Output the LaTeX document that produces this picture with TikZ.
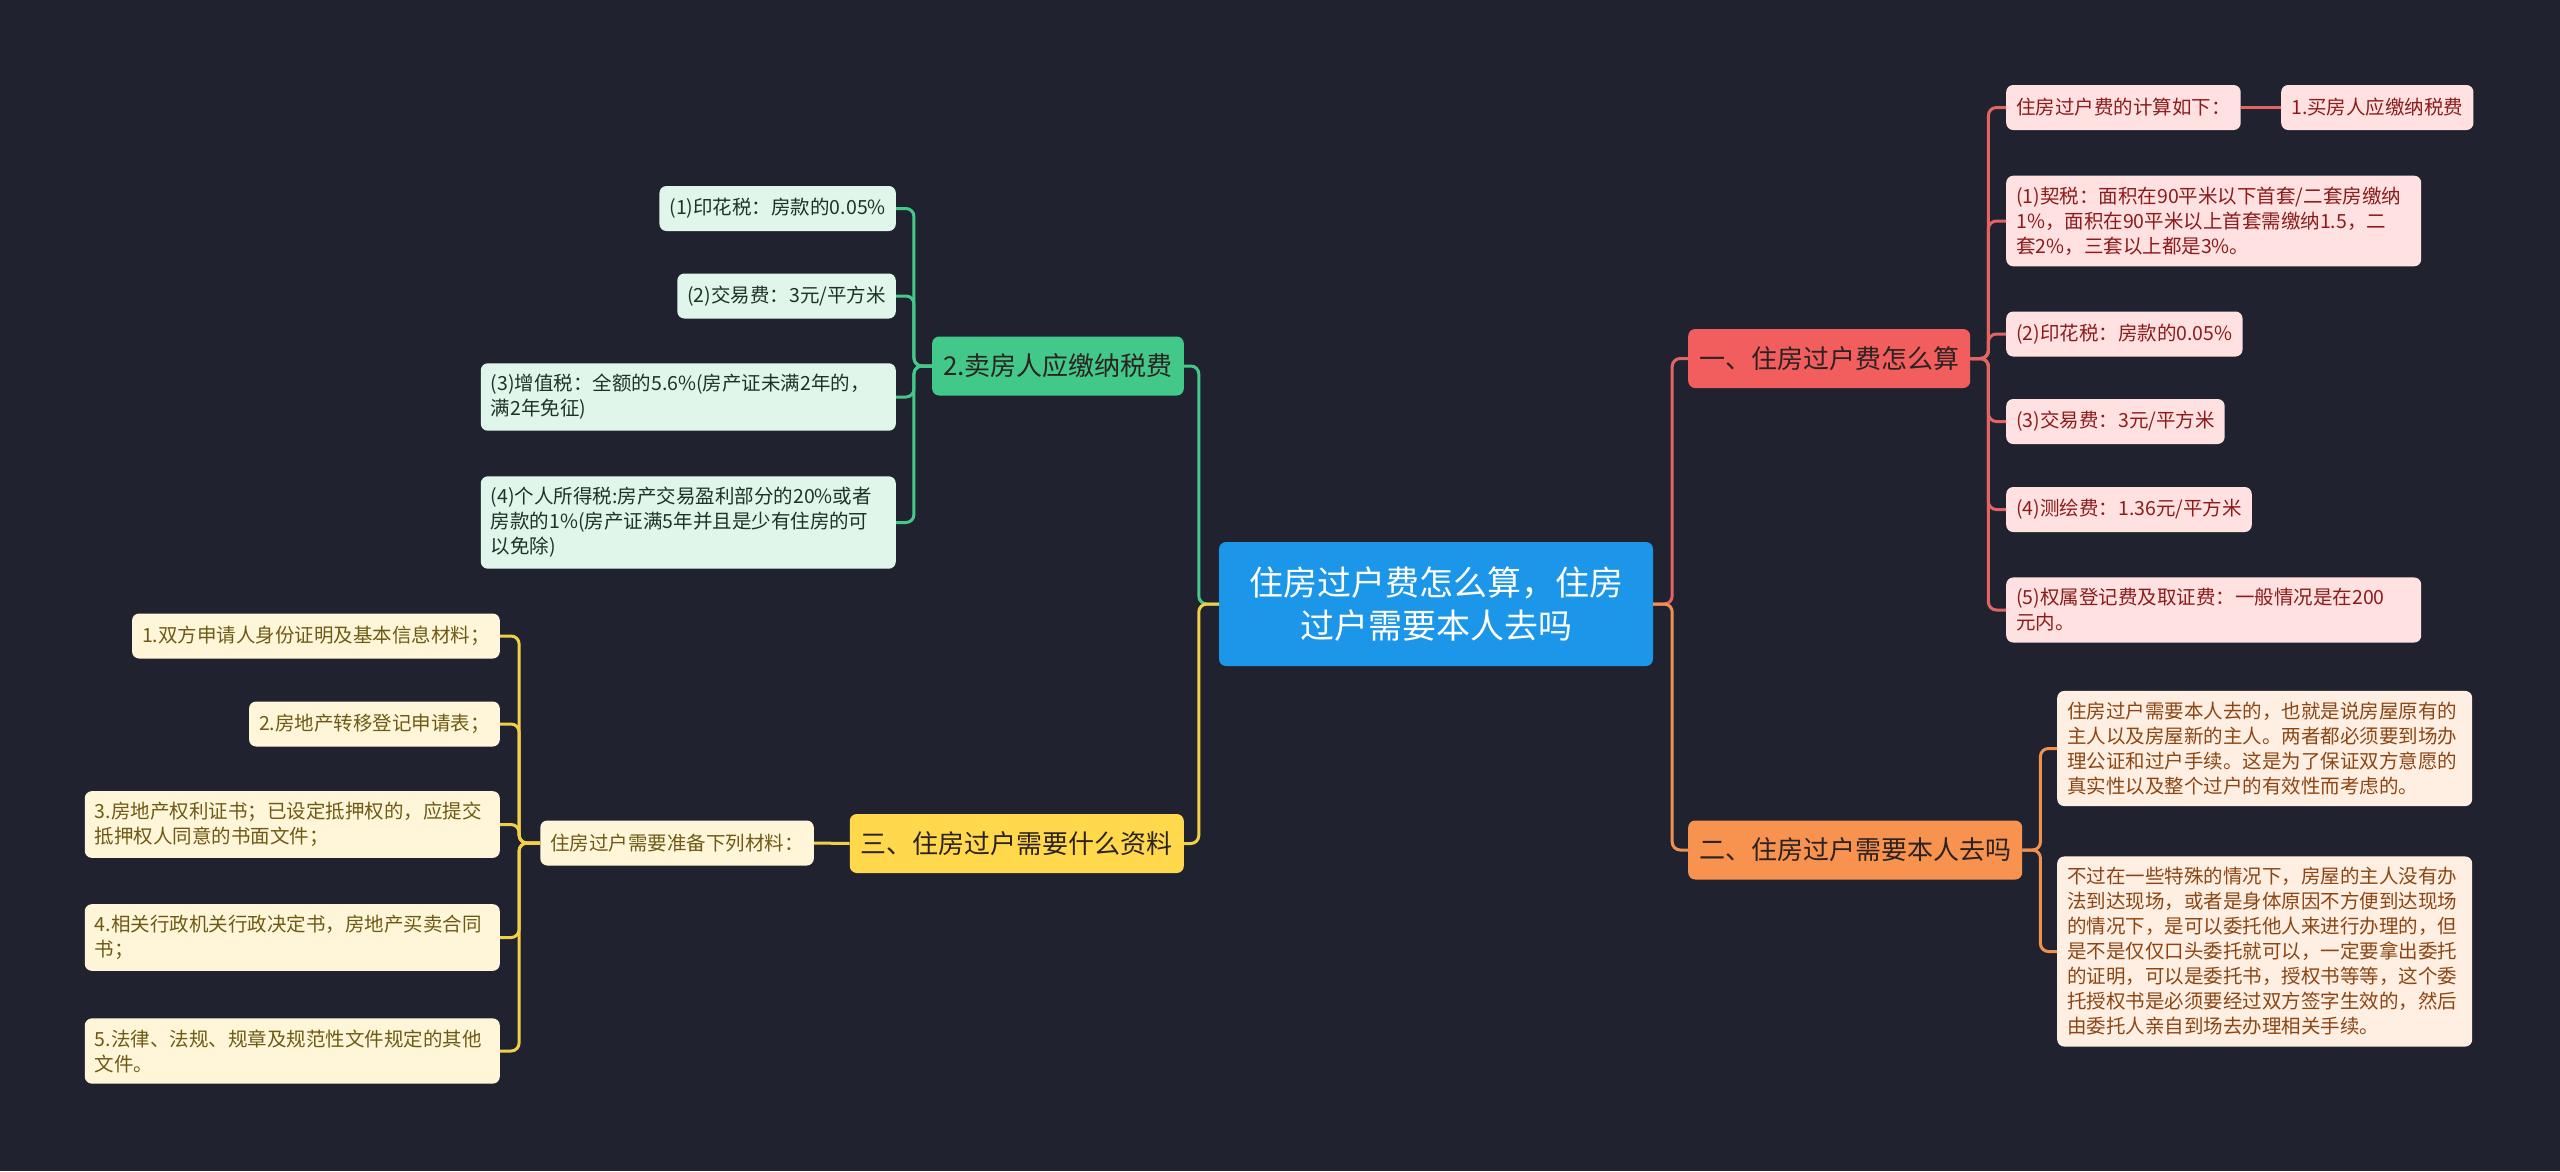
\documentclass[tikz,border=0pt]{standalone}
\usepackage{fontspec}
\setmainfont{Noto Sans CJK SC}
\usetikzlibrary{positioning,calc}
\definecolor{bgc}{HTML}{20232F}
\definecolor{rootc}{HTML}{1C96E8}
\definecolor{mtxt}{HTML}{2B2222}
\definecolor{redm}{HTML}{F25E5E}
\definecolor{redc}{HTML}{FFE1E1}
\definecolor{redt}{HTML}{8C1C1C}
\definecolor{redl}{HTML}{E36464}
\definecolor{orgm}{HTML}{F8924F}
\definecolor{orgc}{HTML}{FFEEE2}
\definecolor{orgt}{HTML}{8C4614}
\definecolor{orgl}{HTML}{F0914E}
\definecolor{grnm}{HTML}{42C989}
\definecolor{grnc}{HTML}{E1F6EB}
\definecolor{grnt}{HTML}{1E3228}
\definecolor{grnl}{HTML}{45C98A}
\definecolor{ylwm}{HTML}{FFD84C}
\definecolor{ylwc}{HTML}{FFF6DA}
\definecolor{ylwt}{HTML}{6E5A14}
\definecolor{ylwl}{HTML}{F2CF48}
\tikzset{
  box/.style  ={rounded corners=7pt,align=left,inner xsep=10pt,inner ysep=11pt,minimum height=45pt,
                font=\fontsize{19.5}{25}\selectfont},
  wide/.style ={text width=395pt},
  root/.style ={box,fill=rootc,text=white,align=center,inner xsep=30pt,minimum height=124pt,
                font=\fontsize{34}{43}\selectfont},
  main/.style ={box,text=mtxt,inner xsep=11pt,minimum height=59pt,font=\fontsize{26}{30}\selectfont},
  mred/.style ={main,fill=redm},
  morg/.style ={main,fill=orgm},
  mgrn/.style ={main,fill=grnm},
  mylw/.style ={main,fill=ylwm},
  cred/.style ={box,fill=redc,text=redt},
  corg/.style ={box,fill=orgc,text=orgt},
  cgrn/.style ={box,fill=grnc,text=grnt},
  cylw/.style ={box,fill=ylwc,text=ylwt},
  lred/.style ={draw=redl,line width=3pt,rounded corners=8pt},
  lorg/.style ={draw=orgl,line width=3pt,rounded corners=8pt},
  lgrn/.style ={draw=grnl,line width=3pt,rounded corners=8pt},
  lylw/.style ={draw=ylwl,line width=3pt,rounded corners=8pt},
}

\begin{document}
\begin{tikzpicture}[x=1pt,y=-1pt]

  % ---------- background ----------
  \fill[bgc] (0,0) rectangle (2560,1171);

  % ---------- root ----------
  \node[root] (root) at (1436,604) {住房过户费怎么算，住房\\过户需要本人去吗};

  % ---------- main branches ----------
  \node[mred,anchor=west] (fee) at (1688,358.5) {一、住房过户费怎么算};
  \node[morg,anchor=west] (self) at (1688,850) {二、住房过户需要本人去吗};
  \node[mgrn,anchor=east] (sell) at (1184,366) {2.卖房人应缴纳税费};
  \node[mylw,anchor=east] (docs) at (1184,843.5) {三、住房过户需要什么资料};

  % ---------- 一、 children ----------
  \node[cred,anchor=west] (f0) at (2006,107.5) {住房过户费的计算如下：};
  \node[cred,anchor=west] (f0b) at (2281,107.5) {1.买房人应缴纳税费};
  \node[cred,anchor=west,wide] (f1) at (2006,221)
    {(1)契税：面积在90平米以下首套/二套房缴纳\\1\%，面积在90平米以上首套需缴纳1.5，二\\套2\%，三套以上都是3\%。};
  \node[cred,anchor=west] (f2) at (2006,334) {(2)印花税：房款的0.05\%};
  \node[cred,anchor=west] (f3) at (2006,421.5) {(3)交易费：3元/平方米};
  \node[cred,anchor=west] (f4) at (2006,509.5) {(4)测绘费：1.36元/平方米};
  \node[cred,anchor=west,wide] (f5) at (2006,610)
    {(5)权属登记费及取证费：一般情况是在200\\元内。};

  % ---------- 二、 children ----------
  \node[corg,anchor=west,wide] (s1) at (2057,748.5)
    {住房过户需要本人去的，也就是说房屋原有的\\主人以及房屋新的主人。两者都必须要到场办\\理公证和过户手续。这是为了保证双方意愿的\\真实性以及整个过户的有效性而考虑的。};
  \node[corg,anchor=west,wide] (s2) at (2057,951.5)
    {不过在一些特殊的情况下，房屋的主人没有办\\法到达现场，或者是身体原因不方便到达现场\\的情况下，是可以委托他人来进行办理的，但\\是不是仅仅口头委托就可以，一定要拿出委托\\的证明，可以是委托书，授权书等等，这个委\\托授权书是必须要经过双方签字生效的，然后\\由委托人亲自到场去办理相关手续。};

  % ---------- 2. children ----------
  \node[cgrn,anchor=east] (g1) at (896,208.5) {(1)印花税：房款的0.05\%};
  \node[cgrn,anchor=east] (g2) at (896,296) {(2)交易费：3元/平方米};
  \node[cgrn,anchor=east,wide] (g3) at (896,397)
    {(3)增值税：全额的5.6\%(房产证未满2年的，\\满2年免征)};
  \node[cgrn,anchor=east,wide] (g4) at (896,522.5)
    {(4)个人所得税:房产交易盈利部分的20\%或者\\房款的1\%(房产证满5年并且是少有住房的可\\以免除)};

  % ---------- 三、 children ----------
  \node[cylw,anchor=east] (d0) at (814,843) {住房过户需要准备下列材料：};
  \node[cylw,anchor=east] (d1) at (500,636) {1.双方申请人身份证明及基本信息材料；};
  \node[cylw,anchor=east] (d2) at (500,724) {2.房地产转移登记申请表；};
  \node[cylw,anchor=east,wide] (d3) at (500,824.5)
    {3.房地产权利证书；已设定抵押权的，应提交\\抵押权人同意的书面文件；};
  \node[cylw,anchor=east,wide] (d4) at (500,937.5)
    {4.相关行政机关行政决定书，房地产买卖合同\\书；};
  \node[cylw,anchor=east,wide] (d5) at (500,1051)
    {5.法律、法规、规章及规范性文件规定的其他\\文件。};

  % ---------- connectors ----------
  \draw[lred] (root.east) -- ++(19,0) |- (fee.west);
  \draw[lorg] (root.east) -- ++(19,0) |- (self.west);
  \draw[lgrn] (root.west) -- ++(-20,0) |- (sell.east);
  \draw[lylw] (root.west) -- ++(-20,0) |- (docs.east);

  \foreach \c in {f0,f1,f2,f3,f4,f5}
    \draw[lred] (fee.east) -- ++(18,0) |- (\c.west);
  \draw[lred] (f0.east) -- (f0b.west);
  \foreach \c in {s1,s2}
    \draw[lorg] (self.east) -- ++(18,0) |- (\c.west);
  \foreach \c in {g1,g2,g3,g4}
    \draw[lgrn] (sell.west) -- ++(-18,0) |- (\c.east);
  \draw[lylw] (docs.west) -- (d0.east);
  \foreach \c in {d1,d2,d3,d4,d5}
    \draw[lylw] (d0.west) -- ++(-21,0) |- (\c.east);

\end{tikzpicture}
\end{document}
